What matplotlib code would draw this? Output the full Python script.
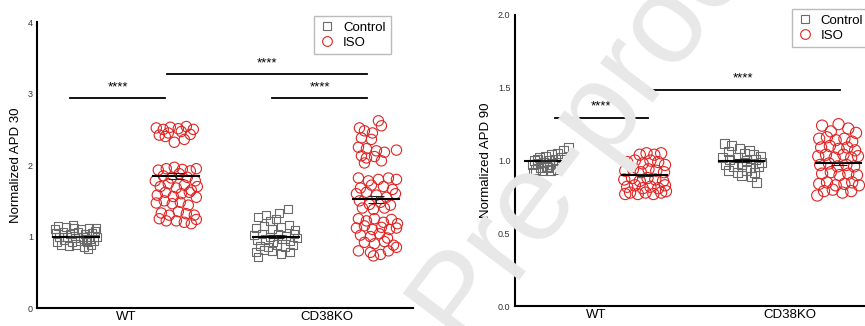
import matplotlib.pyplot as plt
from matplotlib.lines import Line2D
import numpy as np

plt.rcParams['font.family'] = ['Liberation Sans', 'DejaVu Sans']

group_labels = ['WT', 'CD38KO']
series_labels = ['Control', 'ISO']

# ---- APD30 (left panel): (x offset, value) pairs
apd30_wt_ctrl_dx = [-0.18, -0.10, -0.02, 0.05, 0.13, 0.19, -0.20, -0.13, -0.06, 0.02, 0.09, 0.16,
                    -0.17, -0.09, -0.01, 0.07, 0.14, 0.21, -0.19, -0.12, -0.04, 0.04, 0.11, 0.18,
                    -0.15, -0.07, 0.00, 0.08, 0.15, 0.12, -0.21, 0.20, -0.03, 0.10]
apd30_wt_ctrl = [1.15, 1.14, 1.12, 1.10, 1.12, 1.08, 1.05, 1.06, 1.04, 1.06, 1.03, 1.05,
                 0.99, 1.00, 0.98, 1.00, 0.97, 1.00, 0.93, 0.95, 0.92, 0.94, 0.92, 0.94,
                 0.88, 0.87, 0.89, 0.86, 0.88, 0.83, 1.10, 1.12, 1.16, 0.96]

apd30_wt_iso_dx = [-0.20, -0.13, -0.06, 0.02, 0.10, 0.17, -0.17, -0.08, 0.05, 0.14, -0.02, 0.08, -0.11,
                   -0.18, -0.10, -0.02, 0.06, 0.14, 0.20, -0.21, -0.13, -0.05, 0.03, 0.11, 0.19,
                   -0.16, -0.08, 0.00, 0.08, 0.15, 0.21, -0.19, -0.11, -0.03, 0.05, 0.13, 0.20,
                   -0.20, -0.12, -0.04, 0.04, 0.12, -0.15, -0.07, 0.02, 0.10, 0.18,
                   -0.17, -0.10, 0.00, 0.08, 0.15, 0.20]
apd30_wt_iso = [2.52, 2.50, 2.53, 2.51, 2.54, 2.50, 2.42, 2.45, 2.47, 2.43, 2.32, 2.36, 2.40,
                1.93, 1.95, 1.97, 1.94, 1.92, 1.95, 1.78, 1.85, 1.82, 1.88, 1.83, 1.78,
                1.70, 1.74, 1.68, 1.72, 1.65, 1.70, 1.58, 1.62, 1.56, 1.60, 1.62, 1.55,
                1.47, 1.50, 1.46, 1.48, 1.44, 1.33, 1.30, 1.35, 1.32, 1.30,
                1.25, 1.22, 1.22, 1.20, 1.18, 1.24]

apd30_ko_ctrl_dx = [-0.18, -0.10, 0.03, 0.12, -0.06, 0.00, -0.20, -0.12, -0.04, 0.05, 0.13, 0.19,
                    -0.22, -0.14, -0.06, 0.02, 0.10, 0.18, -0.19, -0.11, -0.03, 0.06, 0.14, 0.21,
                    -0.16, -0.08, 0.01, 0.09, 0.17, -0.20, -0.12, -0.04, 0.05, 0.14, -0.18]
apd30_ko_ctrl = [1.27, 1.30, 1.33, 1.38, 1.22, 1.25, 1.12, 1.15, 1.10, 1.14, 1.16, 1.09,
                 1.02, 1.04, 1.00, 1.03, 1.01, 1.03, 0.95, 0.96, 0.93, 0.97, 0.94, 0.98,
                 0.87, 0.86, 0.89, 0.85, 0.88, 0.78, 0.81, 0.80, 0.76, 0.78, 0.72]

apd30_ko_iso_dx = [0.02, -0.17, -0.12, -0.04, 0.05, -0.15, -0.05, -0.18, -0.10, 0.00, 0.08, 0.20,
                   -0.10, -0.02, -0.12, 0.05, -0.15,
                   -0.18, -0.08, 0.02, 0.12, 0.20, -0.16, -0.05, 0.07, 0.16, -0.20, -0.10,
                   0.00, 0.10, 0.19, -0.17, -0.07, 0.04, 0.14, -0.14, -0.03, 0.08,
                   -0.18, -0.10, -0.02, 0.07, 0.15, 0.21, -0.20, -0.12, -0.04, 0.05, 0.13,
                   0.20, -0.16, -0.06, 0.03, 0.11, -0.12, -0.02, 0.08, 0.17, -0.18, -0.06,
                   0.04, 0.12, 0.20, -0.03]
apd30_ko_iso = [2.62, 2.52, 2.48, 2.45, 2.55, 2.38, 2.36, 2.25, 2.23, 2.20, 2.18, 2.21,
                2.10, 2.12, 2.03, 2.06, 2.13,
                1.82, 1.78, 1.80, 1.82, 1.80, 1.68, 1.72, 1.70, 1.66, 1.60, 1.62,
                1.58, 1.55, 1.60, 1.50, 1.45, 1.48, 1.44, 1.40, 1.38, 1.40,
                1.25, 1.22, 1.25, 1.20, 1.24, 1.18, 1.12, 1.15, 1.10, 1.13, 1.10,
                1.12, 1.02, 1.00, 1.04, 0.98, 0.92, 0.90, 0.93, 0.88, 0.80, 0.78,
                0.75, 0.80, 0.85, 0.73]

apd30_means = [1.00, 1.85, 1.00, 1.52]
apd30_sem = [0.01, 0.04, 0.02, 0.05]

# ---- APD90 (right panel)
apd90_wt_ctrl_dx = [-0.14, -0.08, -0.02, 0.04, 0.10, 0.16, 0.21, -0.16, -0.10, -0.04, 0.02, 0.08,
                    0.14, -0.13, -0.07, -0.01, 0.05, 0.11, -0.15, -0.05, 0.03, 0.10, -0.10, 0.00]
apd90_wt_ctrl = [1.00, 1.02, 1.03, 1.04, 1.05, 1.07, 1.09, 0.97, 0.98, 0.99, 1.00, 1.01,
                 1.02, 0.94, 0.95, 0.96, 0.97, 0.97, 0.92, 0.93, 0.93, 0.94, 1.01, 0.95]

apd90_wt_iso_dx = [-0.05, 0.02, 0.10, 0.17, -0.18, -0.10, -0.02, 0.06, 0.14, 0.21,
                   -0.20, -0.12, -0.04, 0.04, 0.12, 0.20, -0.21, -0.13, -0.05, 0.03, 0.11, 0.19,
                   -0.18, -0.10, -0.02, 0.06, 0.14, 0.21, -0.15, -0.07, 0.01, 0.09, 0.17, -0.20, 0.22]
apd90_wt_iso = [1.04, 1.05, 1.04, 1.05, 0.99, 1.00, 0.98, 1.00, 0.99, 0.97,
                0.93, 0.94, 0.92, 0.94, 0.93, 0.92, 0.87, 0.88, 0.86, 0.88, 0.87, 0.86,
                0.82, 0.83, 0.81, 0.82, 0.81, 0.83, 0.78, 0.77, 0.78, 0.77, 0.78, 0.77, 0.79]

apd90_ko_ctrl_dx = [-0.18, -0.10, -0.02, 0.08, -0.14, 0.03, 0.12, 0.19, -0.20, -0.12, -0.04, 0.05,
                    0.14, 0.21, -0.17, -0.08, 0.00, 0.09, 0.17, -0.13, -0.04, 0.05, 0.13, 0.00,
                    0.10, 0.15]
apd90_ko_ctrl = [1.12, 1.10, 1.08, 1.07, 1.06, 1.05, 1.04, 1.03, 1.02, 1.01, 1.02, 1.00,
                 1.01, 0.99, 0.97, 0.96, 0.97, 0.95, 0.96, 0.93, 0.92, 0.93, 0.92, 0.90,
                 0.89, 0.85]

apd90_ko_iso_dx = [-0.17, 0.00, 0.10, -0.08, 0.18, -0.20, -0.12, -0.03, 0.06, 0.14,
                   -0.18, -0.09, 0.00, 0.09, 0.17, -0.21, -0.13, -0.04, 0.05, 0.13, 0.20,
                   -0.19, -0.10, -0.01, 0.08, 0.16, -0.17, -0.08, 0.01, 0.10, 0.19,
                   -0.20, -0.12, -0.03, 0.06, 0.14, 0.21, -0.15, -0.06, 0.04, 0.13, -0.22]
apd90_ko_iso = [1.24, 1.25, 1.22, 1.20, 1.19, 1.15, 1.16, 1.14, 1.15, 1.13,
                1.09, 1.10, 1.08, 1.09, 1.07, 1.03, 1.04, 1.02, 1.04, 1.02, 1.03,
                0.97, 0.98, 0.96, 0.97, 0.96, 0.91, 0.92, 0.90, 0.91, 0.90,
                0.84, 0.85, 0.83, 0.84, 0.85, 0.83, 0.79, 0.80, 0.78, 0.79, 0.76]

apd90_means = [1.00, 0.90, 1.00, 0.98]
apd90_sem = [0.005, 0.008, 0.008, 0.012]

# significance bars: (x start, x end, y)
apd30_sig = [(-0.06, 0.89, 2.94), (0.91, 2.91, 3.27), (1.96, 2.91, 2.94)]
apd90_sig = [(0.08, 1.03, 1.29), (1.02, 3.01, 1.485)]

CTRL_COLOR = '#6a6a6a'
ISO_COLOR = '#e02424'


def draw_panel(ax, groups, means, sems, sig, ylim, yticks, yfmt, ylabel, star_off, msize):
    for i, (dx, vals) in enumerate(groups):
        x = i + np.array(dx)
        if i % 2 == 0:
            ax.scatter(x, vals, s=msize[0], marker='s', facecolors='none',
                       edgecolors=CTRL_COLOR, linewidths=0.8, zorder=2)
        else:
            ax.scatter(x, vals, s=msize[1], marker='o', facecolors='none',
                       edgecolors=ISO_COLOR, linewidths=0.8, zorder=2)
        # mean line + sem
        ax.plot([i - 0.23, i + 0.23], [means[i], means[i]], color='black', lw=1.5, zorder=4)
        ax.errorbar(i, means[i], yerr=sems[i], color='#222222', lw=0.8,
                    capsize=6, capthick=0.8, zorder=4)

    for x0, x1, y in sig:
        ax.plot([x0, x1], [y, y], color='black', lw=1.3, zorder=3)
        ax.text((x0 + x1) / 2, y + star_off, '****', ha='center', va='center',
                fontsize=9.5, zorder=3)

    ax.set_ylim(*ylim)
    ax.set_yticks(yticks)
    ax.set_yticklabels([yfmt.format(t) for t in yticks])
    ax.set_xticks([0.5, 2.5])
    ax.set_xticklabels(group_labels, fontsize=9.5)
    ax.tick_params(axis='y', length=0, pad=3, labelsize=6.5, labelcolor='#333333')
    ax.tick_params(axis='x', length=0, pad=2)
    ax.set_ylabel(ylabel, fontsize=9.5, labelpad=4)
    for side in ['top', 'right']:
        ax.spines[side].set_visible(False)
    for side in ['left', 'bottom']:
        ax.spines[side].set_linewidth(1.5)

    handles = [Line2D([], [], marker='s', ls='none', mfc='none', mec=CTRL_COLOR, ms=6, mew=0.8),
               Line2D([], [], marker='o', ls='none', mfc='none', mec=ISO_COLOR, ms=7, mew=0.8)]
    leg = ax.legend(handles, series_labels, loc='upper right', bbox_to_anchor=(0.94, 1.02),
                    borderaxespad=0, fontsize=9.5, fancybox=False, handletextpad=0.6,
                    borderpad=0.4, labelspacing=0.2, handlelength=1.2)
    leg.get_frame().set_edgecolor('#aaaaaa')
    leg.get_frame().set_linewidth(1.0)


fig = plt.figure(figsize=(8.65, 3.26), dpi=100)
ax1 = fig.add_axes([0.043, 0.055, 0.435, 0.877])
ax2 = fig.add_axes([0.595, 0.061, 0.435, 0.893])

draw_panel(ax1,
           [(apd30_wt_ctrl_dx, apd30_wt_ctrl), (apd30_wt_iso_dx, apd30_wt_iso),
            (apd30_ko_ctrl_dx, apd30_ko_ctrl), (apd30_ko_iso_dx, apd30_ko_iso)],
           apd30_means, apd30_sem, apd30_sig, (0, 4), [0, 1, 2, 3, 4], '{:g}',
           'Normalized APD 30', 0.15, (34, 55))
ax1.set_xlim(-0.39, 3.37)

draw_panel(ax2,
           [(apd90_wt_ctrl_dx, apd90_wt_ctrl), (apd90_wt_iso_dx, apd90_wt_iso),
            (apd90_ko_ctrl_dx, apd90_ko_ctrl), (apd90_ko_iso_dx, apd90_ko_iso)],
           apd90_means, apd90_sem, apd90_sig, (0, 2), [0, 0.5, 1.0, 1.5, 2.0], '{:.1f}',
           'Normalized APD 90', 0.08, (42, 65))
ax2.set_xlim(-0.34, 3.54)

# journal watermark, runs diagonally through the right panel
fig.text(0.685, 0.64, 'Pre-proof', fontsize=90, color='#e8e8e8', rotation=53,
         rotation_mode='anchor', ha='center', va='center', zorder=10)

fig.savefig('out.png', dpi=100)
